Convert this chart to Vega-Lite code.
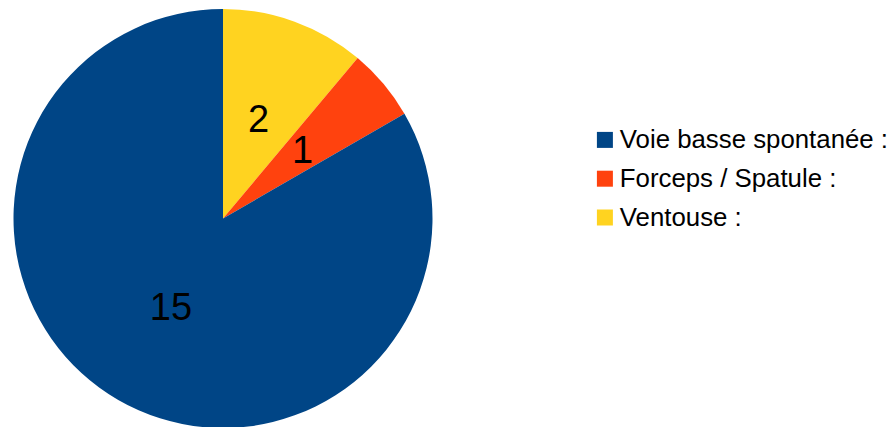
{
  "$schema": "https://vega.github.io/schema/vega-lite/v6.json",
  "description": "Mode d'accouchement : diagramme circulaire",
  "width": 446,
  "height": 437,
  "padding": 0,
  "autosize": {"type": "pad"},
  "config": {
    "view": {"stroke": null},
    "font": "Liberation Sans"
  },
  "data": {
    "values": [
      {"Mode": "Ventouse :", "Nombre": 2, "Ordre": 1},
      {"Mode": "Forceps / Spatule :", "Nombre": 1, "Ordre": 2},
      {"Mode": "Voie basse spontanée :", "Nombre": 15, "Ordre": 3}
    ]
  },
  "encoding": {
    "theta": {"field": "Nombre", "type": "quantitative", "stack": true},
    "order": {"field": "Ordre", "type": "quantitative"},
    "color": {
      "field": "Mode",
      "type": "nominal",
      "scale": {
        "domain": ["Voie basse spontanée :", "Forceps / Spatule :", "Ventouse :"],
        "range": ["#004586", "#ff420e", "#ffd320"]
      },
      "legend": {
        "title": null,
        "orient": "none",
        "legendX": 592,
        "legendY": 127,
        "symbolType": "square",
        "symbolSize": 256,
        "symbolStrokeWidth": 0,
        "labelFont": "Liberation Sans",
        "labelFontSize": 25.8,
        "labelColor": "#000000",
        "labelOffset": 2,
        "labelLimit": 400,
        "rowPadding": 11.8
      }
    }
  },
  "layer": [
    {
      "mark": {"type": "arc", "outerRadius": 209.5}
    },
    {
      "mark": {
        "type": "text",
        "radius": 104,
        "fontSize": 38,
        "font": "Liberation Sans",
        "color": "#000000",
        "align": "center",
        "baseline": "middle"
      },
      "encoding": {
        "text": {"field": "Nombre", "type": "quantitative"},
        "color": {"value": "#000000"}
      }
    }
  ]
}
